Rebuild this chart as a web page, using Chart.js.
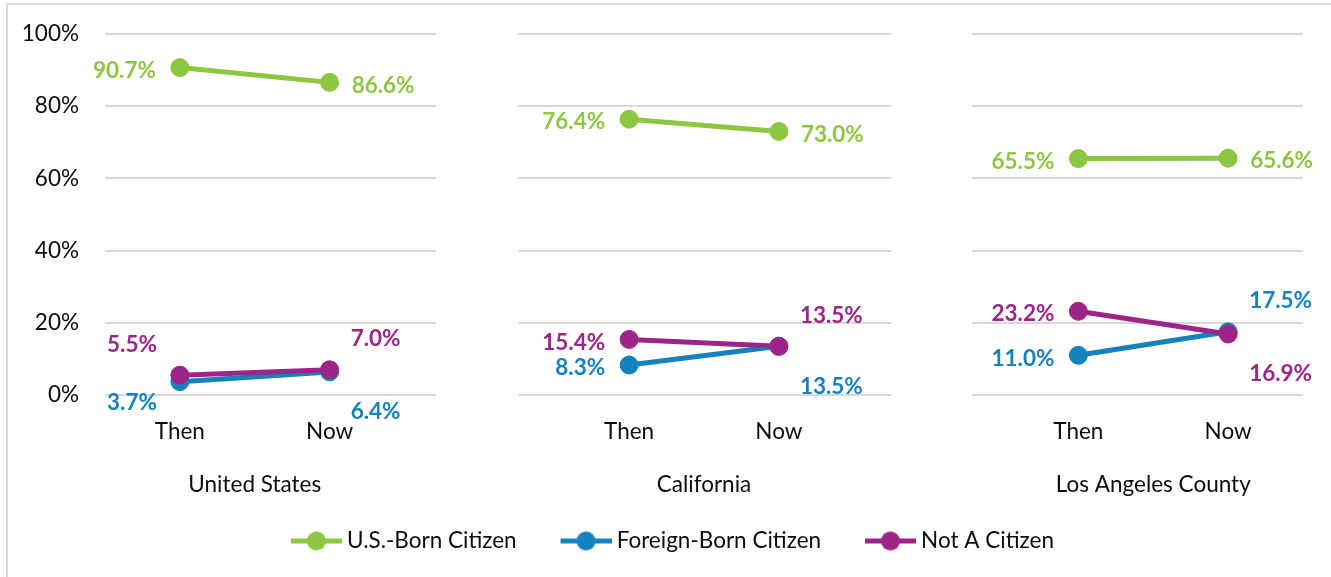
<!DOCTYPE html>
<html><head><meta charset="utf-8">
<script src="https://cdn.jsdelivr.net/npm/chart.js@4.4.1/dist/chart.umd.min.js"></script>
<style>
html,body{margin:0;padding:0;background:#fff;overflow:hidden;}
#wrap{position:relative;width:1331px;height:577px;overflow:hidden;background:#fff;}
#frame{position:absolute;left:6px;top:3px;width:1400px;height:700px;border:2px solid #d9d9d9;box-sizing:border-box;}
canvas{position:absolute;left:0;top:0;}
</style></head><body>
<div id="wrap"><div id="frame"></div><canvas id="c" width="1331" height="577"></canvas></div>
<script>
// ---- data ----
const regions = ['United States', 'California', 'Los Angeles County'];
const periods = ['Then', 'Now'];
const usBorn      = [90.7, 86.6, 76.4, 73.0, 65.5, 65.6];
const foreignBorn = [3.7, 6.4, 8.3, 13.5, 11.0, 17.5];
const notCitizen  = [5.5, 7.0, 15.4, 13.5, 23.2, 16.9];
const yTickValues = [0, 20, 40, 60, 80, 100];
const seriesNames = ['U.S.-Born Citizen', 'Foreign-Born Citizen', 'Not A Citizen'];

// ---- style / placement config (not data) ----
const colors = { usBorn: '#8dc63f', foreignBorn: '#1582be', notCitizen: '#9d2489' };
const placements = {
  usBorn:      ['L', 'R', 'L', 'R', 'L', 'R'],
  foreignBorn: ['DL', 'DR', 'L', 'DR', 'L', 'UR'],
  notCitizen:  ['UL', 'UR', 'L', 'UR', 'L', 'DR']
};
const offsets = {
  L: [-24, 3, 'right'], R: [22, 3, 'left'],
  UL: [-23, -30, 'right'], UR: [21, -31, 'left'],
  DL: [-23, 21, 'right'], DR: [21, 40, 'left']
};
const gridSpans = [[-0.5, 1.71], [2.26, 4.75], [5.29, 7.5]];
const FONT = 'Lato';
const FS = 22.5;

// ---- build category table with spacer slots between regions ----
const catLabels = [];
const slotToValue = [];
regions.forEach((r, ri) => {
  periods.forEach((p, pi) => { catLabels.push(p); slotToValue.push(ri * periods.length + pi); });
  if (ri < regions.length - 1) { catLabels.push(''); slotToValue.push(null); }
});
const expand = arr => slotToValue.map(i => i === null ? null : arr[i]);
const groupCenters = regions.map((r, ri) => {
  const idx = slotToValue.map((v, s) => (v !== null && Math.floor(v / periods.length) === ri) ? s : null).filter(s => s !== null);
  return (idx[0] + idx[idx.length - 1]) / 2;
});

// legend marker: line with a dot, drawn at the right end of a wider transparent image
function markerImg(color) {
  const c = document.createElement('canvas');
  c.width = 91; c.height = 23;
  const g = c.getContext('2d');
  g.fillStyle = color;
  g.fillRect(40, 9, 51, 5);
  g.beginPath(); g.arc(65.5, 11.5, 9.5, 0, Math.PI * 2); g.fill();
  return c;
}

function makeDataset(name, values, key, order) {
  return {
    label: name,
    data: expand(values),
    placements: expand(placements[key]),
    borderColor: colors[key],
    backgroundColor: colors[key],
    pointBackgroundColor: colors[key],
    pointBorderColor: colors[key],
    borderWidth: 5,
    pointRadius: 9,
    pointBorderWidth: 1,
    pointHoverRadius: 9,
    spanGaps: false,
    tension: 0,
    order: order,
    marker: markerImg(colors[key])
  };
}

const segGrid = {
  id: 'segGrid',
  beforeDatasetsDraw(chart) {
    const { ctx, scales: { x, y } } = chart;
    ctx.save();
    ctx.strokeStyle = '#d9d9d9';
    ctx.lineWidth = 2;
    yTickValues.forEach(v => {
      const py = Math.round(y.getPixelForValue(v));
      gridSpans.forEach(([a, b]) => {
        ctx.beginPath();
        ctx.moveTo(x.getPixelForValue(a), py);
        ctx.lineTo(x.getPixelForValue(b), py);
        ctx.stroke();
      });
    });
    ctx.restore();
  }
};

const valueLabels = {
  id: 'valueLabels',
  afterDatasetsDraw(chart) {
    const { ctx } = chart;
    ctx.save();
    ctx.font = `bold ${FS}px ${FONT}`;
    ctx.textBaseline = 'middle';
    chart.data.datasets.forEach((ds, di) => {
      const meta = chart.getDatasetMeta(di);
      meta.data.forEach((pt, i) => {
        const v = ds.data[i];
        if (v === null || v === undefined) return;
        const [dx, dy, align] = offsets[ds.placements[i]];
        ctx.fillStyle = ds.borderColor;
        ctx.textAlign = align;
        ctx.fillText(v.toFixed(1) + '%', pt.x + dx, pt.y + dy);
      });
    });
    ctx.restore();
  }
};

Chart.defaults.font.family = FONT;
Chart.defaults.font.size = FS;
Chart.defaults.color = '#0d0d0d';

new Chart(document.getElementById('c'), {
  type: 'line',
  data: {
    labels: catLabels,
    datasets: [
      makeDataset(seriesNames[0], usBorn, 'usBorn', 0),
      makeDataset(seriesNames[1], foreignBorn, 'foreignBorn', 2),
      makeDataset(seriesNames[2], notCitizen, 'notCitizen', 1)
    ]
  },
  options: {
    responsive: false,
    animation: false,
    devicePixelRatio: 1,
    layout: { padding: { top: 34, left: 8, right: 28, bottom: 14.75 } },
    scales: {
      y: {
        min: 0, max: 100,
        afterBuildTicks: s => { s.ticks = yTickValues.map(v => ({ value: v })); },
        ticks: { callback: v => v + '%', padding: 26, color: '#0d0d0d', font: { size: FS } },
        grid: { display: false, drawTicks: false },
        border: { display: false },
        afterFit: s => { s.width = 97; s.paddingTop = 0; s.paddingBottom = 0; }
      },
      x: {
        type: 'category',
        offset: true,
        weight: 0,
        ticks: { autoSkip: false, maxRotation: 0, padding: 23.5, color: '#0d0d0d', font: { size: FS } },
        grid: { display: false, drawTicks: false },
        border: { display: false },
        afterFit: s => { s.height = 52; }
      },
      x2: {
        type: 'linear',
        axis: 'x',
        position: 'bottom',
        weight: 1,
        min: -0.5, max: catLabels.length - 0.5,
        afterBuildTicks: s => { s.ticks = groupCenters.map(v => ({ value: v })); },
        ticks: { autoSkip: false, maxRotation: 0, padding: 24, color: '#0d0d0d', font: { size: FS },
                 callback: (v, i) => regions[i] },
        grid: { display: false, drawTicks: false },
        border: { display: false },
        afterFit: s => { s.height = 72.75; }
      }
    },
    plugins: {
      tooltip: { enabled: false },
      legend: {
        position: 'bottom',
        align: 'center',
        labels: {
          usePointStyle: true,
          pointStyleWidth: 78.75,
          padding: 10,
          color: '#0d0d0d',
          font: { size: FS },
          generateLabels(chart) {
            const items = Chart.defaults.plugins.legend.labels.generateLabels(chart);
            items.sort((a, b) => a.datasetIndex - b.datasetIndex);
            items.forEach(it => { it.pointStyle = chart.data.datasets[it.datasetIndex].marker; });
            return items;
          }
        }
      }
    }
  },
  plugins: [segGrid, valueLabels]
});
</script>
</body></html>
